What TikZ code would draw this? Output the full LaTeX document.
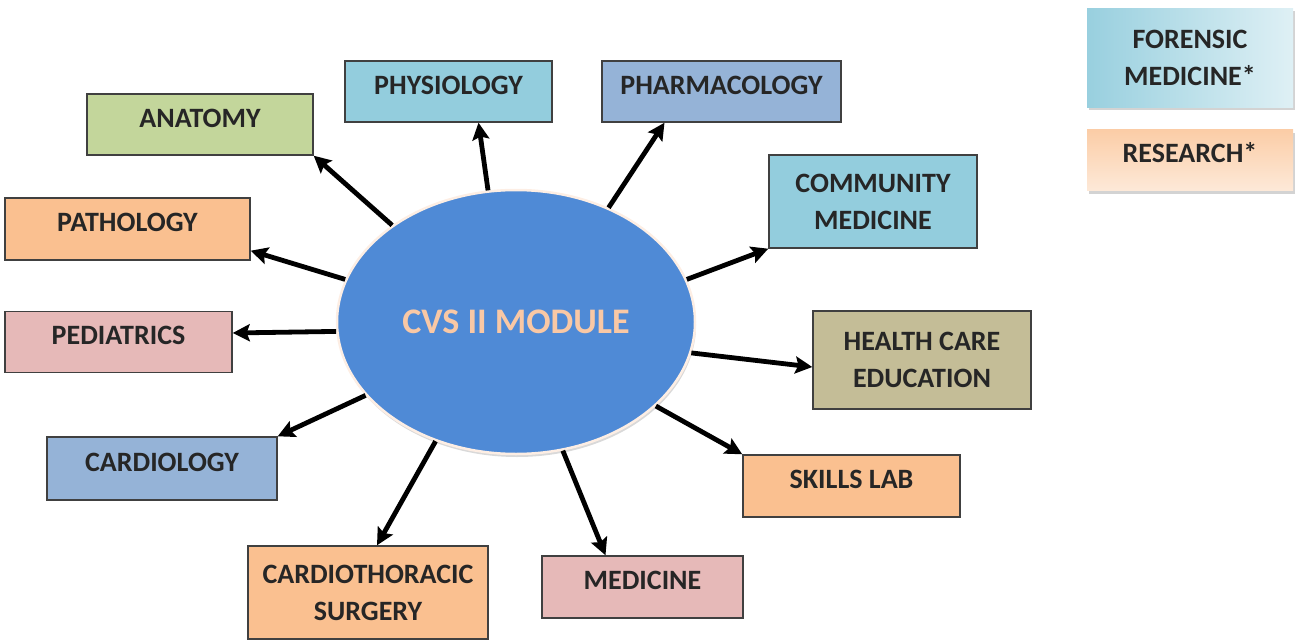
\documentclass[tikz,border=0pt]{standalone}
\usepackage{amsmath, tikz, xcolor}
\usepackage{fontspec}
\setmainfont{Carlito}
\usetikzlibrary{arrows.meta, shapes.geometric, shadows}
\definecolor{cAnatomy}{HTML}{C3D69B}
\definecolor{cPeach}{HTML}{FAC090}
\definecolor{cAqua}{HTML}{93CDDD}
\definecolor{cSteel}{HTML}{95B3D7}
\definecolor{cRose}{HTML}{E6B9B8}
\definecolor{cKhaki}{HTML}{C4BD97}
\definecolor{cCore}{HTML}{4F8AD6}
\definecolor{cCoreText}{HTML}{F9C8A5}
\tikzset{dept/.style = {rectangle, draw=black!75, line width=1.4pt, inner sep=0pt, align=center, text=black!85, font=\fontsize{28}{37}\selectfont\bfseries}}
\tikzset{single/.style = {text height=33pt, text depth=28pt}}
\tikzset{extra/.style = {dept, draw=none, drop shadow={shadow xshift=2pt, shadow yshift=-3pt, opacity=0.35}}}
\tikzset{link/.style = {-{Stealth[length=17pt, width=17pt, inset=3pt]}, line width=4.8pt, black}}

\begin{document}
\begin{tikzpicture}[x=1pt, y=-1pt]
\useasboundingbox (0,0) rectangle (1296,640);
\node[ellipse, minimum width=358pt, minimum height=264pt, inner sep=0pt, fill=cCore, draw=cCoreText!30!white, line width=2.5pt, drop shadow={shadow xshift=1pt, shadow yshift=-3pt, opacity=0.3}, text=cCoreText, font=\fontsize{36}{40}\selectfont\bfseries] (cvs) at (516,322) {CVS II MODULE};
\node[dept, single, fill=cAnatomy, minimum width=226pt, minimum height=61pt] (anatomy) at (200,124.5) {ANATOMY};
\node[dept, single, fill=cPeach, minimum width=245pt, minimum height=62pt] (pathology) at (127.5,229) {PATHOLOGY};
\node[dept, single, fill=cAqua, minimum width=207pt, minimum height=61pt] (physiology) at (448.5,91.5) {PHYSIOLOGY};
\node[dept, single, fill=cSteel, minimum width=239pt, minimum height=61pt] (pharmacology) at (721.5,91.5) {PHARMACOLOGY};
\node[dept, fill=cAqua, minimum width=208pt, minimum height=93pt] (community) at (873,201.5) {COMMUNITY\\MEDICINE};
\node[dept, fill=cKhaki, minimum width=218pt, minimum height=98pt] (health) at (922,360) {HEALTH CARE\\EDUCATION};
\node[dept, single, fill=cPeach, minimum width=217pt, minimum height=62pt] (skills) at (851.5,486) {SKILLS LAB};
\node[dept, single, fill=cRose, minimum width=201pt, minimum height=62pt] (medicine) at (642.5,587) {MEDICINE};
\node[dept, fill=cPeach, minimum width=240pt, minimum height=93pt] (surgery) at (368,592.5) {CARDIOTHORACIC\\SURGERY};
\node[dept, single, fill=cSteel, minimum width=230pt, minimum height=63pt] (cardiology) at (162,468.5) {CARDIOLOGY};
\node[dept, single, fill=cRose, minimum width=227pt, minimum height=60pt] (pediatrics) at (118.5,342) {PEDIATRICS};
\node[extra, left color=cAqua!95, right color=cAqua!30!white, minimum width=206pt, minimum height=99pt] (forensic) at (1190,57.5) {FORENSIC\\MEDICINE*};
\node[extra, single, top color=cPeach!80, bottom color=cPeach!35!white, minimum width=206pt, minimum height=60pt] (research) at (1190,160) {RESEARCH*};
\draw[link] (cvs.142) -- (anatomy.south east);
\draw[link] (cvs.166) -- ([yshift=10pt]pathology.south east);
\draw[link] (cvs.102.6) -- ([xshift=30pt]physiology.south);
\draw[link] (cvs.51.7) -- ([xshift=-57pt]pharmacology.south);
\draw[link] (cvs.14.8) -- (community.south west);
\draw[link] (cvs.-10.2) -- ([yshift=-7pt]health.west);
\draw[link] (cvs.-31.2) -- (skills.north west);
\draw[link] (cvs.-70.5) -- ([xshift=-37pt]medicine.north);
\draw[link] (cvs.236.7) -- ([xshift=9pt]surgery.north);
\draw[link] (cvs.206.4) -- (cardiology.north east);
\draw[link] (cvs.183.2) -- ([yshift=9pt]pediatrics.east);
\end{tikzpicture}
\end{document}
